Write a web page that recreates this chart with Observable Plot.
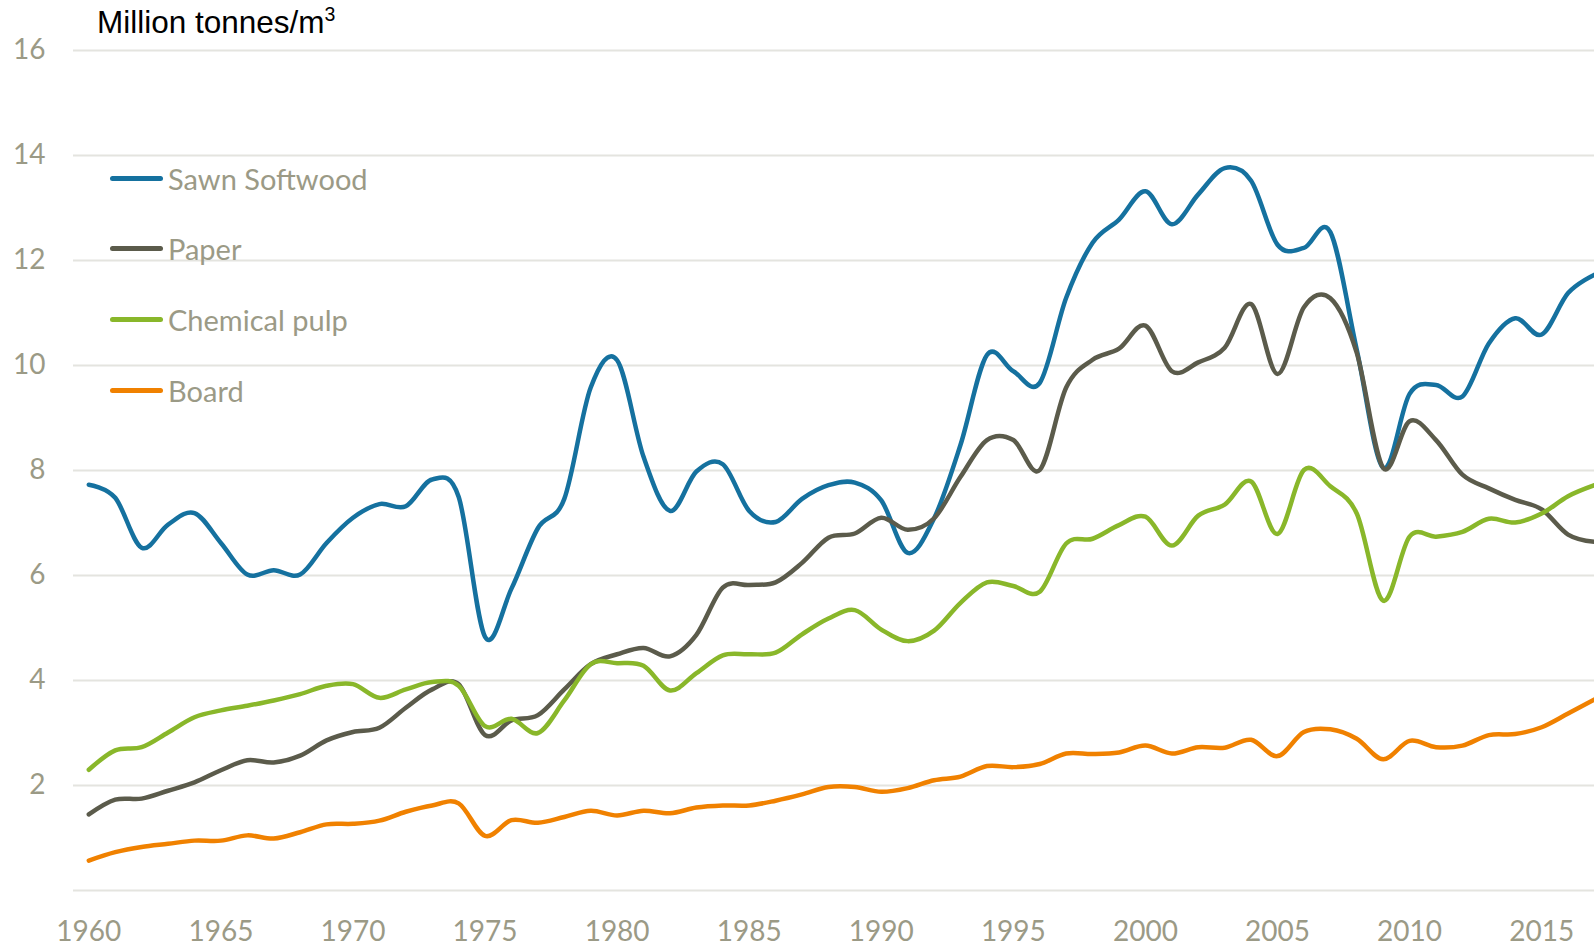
<!DOCTYPE html>
<html>
<head>
<meta charset="utf-8">
<script src="https://cdn.jsdelivr.net/npm/d3@7"></script>
<script src="https://cdn.jsdelivr.net/npm/@observablehq/plot@0.6"></script>
<style>
  body { margin: 0; background: #fff; }
  #wrap { position: relative; width: 1594px; height: 946px; overflow: hidden; background: #fff; }
  #title { position: absolute; left: 97px; top: 7px; font-family: "Liberation Sans", Arial, sans-serif; font-size: 31.5px; line-height: 31px; color: #000; white-space: nowrap; }
  #title sup { font-size: 0.62em; vertical-align: 0.6em; line-height: 0; }
  .item { position: absolute; left: 110px; height: 40px; display: flex; align-items: center; font-family: Lato, sans-serif; font-size: 29px; color: #9b9a86; white-space: nowrap; }
  .sw { width: 53px; height: 5px; border-radius: 3px; margin-right: 5px; }
  #chart { position: absolute; left: 0; top: 0; }
</style>
</head>
<body>
<div id="wrap">
  <div id="chart"></div>
  <div id="title">Million tonnes/m<sup>3</sup></div>
  <div id="legend"></div>
</div>
<script>
const years = [1960,1961,1962,1963,1964,1965,1966,1967,1968,1969,
  1970,1971,1972,1973,1974,1975,1976,1977,1978,1979,
  1980,1981,1982,1983,1984,1985,1986,1987,1988,1989,
  1990,1991,1992,1993,1994,1995,1996,1997,1998,1999,
  2000,2001,2002,2003,2004,2005,2006,2007,2008,2009,
  2010,2011,2012,2013,2014,2015,2016,2017];

const sawnSoftwood = [7.73,7.48,6.53,6.97,7.19,6.62,6.02,6.10,6.02,6.62,
  7.10,7.36,7.32,7.83,7.50,4.83,5.75,6.90,7.46,9.58,
  10.10,8.26,7.23,7.98,8.12,7.23,7.02,7.46,7.72,7.77,
  7.43,6.43,7.09,8.49,10.20,9.89,9.67,11.29,12.34,12.78,
  13.32,12.69,13.26,13.76,13.52,12.30,12.24,12.54,10.30,8.05,
  9.46,9.63,9.41,10.42,10.90,10.59,11.38,11.73];

const paper = [1.45,1.73,1.75,1.90,2.06,2.29,2.48,2.44,2.57,2.86,
  3.02,3.10,3.48,3.83,3.93,2.96,3.24,3.34,3.83,4.31,
  4.50,4.62,4.46,4.87,5.77,5.82,5.87,6.24,6.72,6.80,
  7.10,6.87,7.09,7.88,8.58,8.58,8.01,9.58,10.11,10.32,
  10.76,9.89,10.06,10.34,11.17,9.84,11.11,11.28,10.24,8.05,
  8.94,8.58,7.92,7.66,7.44,7.26,6.78,6.64];

const chemicalPulp = [2.30,2.67,2.73,3.01,3.30,3.43,3.52,3.62,3.74,3.90,
  3.93,3.67,3.83,3.97,3.90,3.13,3.27,3.00,3.62,4.31,
  4.33,4.28,3.81,4.14,4.48,4.50,4.53,4.88,5.18,5.34,
  4.97,4.75,4.95,5.48,5.87,5.80,5.69,6.61,6.70,6.96,
  7.12,6.57,7.14,7.35,7.79,6.79,8.01,7.70,7.18,5.52,
  6.74,6.74,6.83,7.08,7.01,7.18,7.51,7.72];

const board = [0.57,0.73,0.83,0.89,0.95,0.95,1.05,0.99,1.11,1.26,
  1.27,1.33,1.50,1.62,1.66,1.04,1.34,1.29,1.40,1.52,
  1.43,1.52,1.47,1.58,1.62,1.62,1.71,1.83,1.97,1.97,
  1.88,1.95,2.10,2.17,2.37,2.35,2.41,2.61,2.60,2.63,
  2.76,2.61,2.73,2.72,2.87,2.56,3.02,3.07,2.89,2.50,
  2.85,2.73,2.76,2.96,2.98,3.11,3.37,3.64];

const seriesNames = ["Sawn Softwood", "Paper", "Chemical pulp", "Board"];
const seriesColors = ["#15719f", "#5b5b4b", "#89b72a", "#f08100"];
const seriesValues = [sawnSoftwood, paper, chemicalPulp, board];

const xTicks = [1960,1965,1970,1975,1980,1985,1990,1995,2000,2005,2010,2015];
const yTicks = [2,4,6,8,10,12,14,16];
const gridValues = [0,2,4,6,8,10,12,14,16];

const rows = seriesValues.map(vals => years.map((yr, i) => ({year: yr, value: vals[i]})));

const chart = Plot.plot({
  width: 1594,
  height: 946,
  marginLeft: 73,
  marginRight: 0,
  marginTop: 50,
  marginBottom: 56,
  style: {fontFamily: "Lato, sans-serif", fontSize: "28px", color: "#9b9a86", background: "white", overflow: "hidden"},
  x: {domain: [1959.42, 2017], ticks: xTicks, tickFormat: d => String(d), tickSize: 0, tickPadding: 31, label: null},
  y: {domain: [0, 16], ticks: yTicks, tickSize: 0, tickPadding: 28, label: null},
  marks: [
    Plot.ruleY(gridValues, {stroke: "#e4e4df", strokeWidth: 2}),
    ...rows.map((r, i) => Plot.line(r, {
      x: "year", y: "value",
      stroke: seriesColors[i], strokeWidth: 4.5,
      strokeLinecap: "round", strokeLinejoin: "round",
      curve: "cardinal", tension: 0
    }))
  ]
});
document.getElementById("chart").appendChild(chart);

const legendCenters = [178, 248, 319, 390];
const legend = document.getElementById("legend");
seriesNames.forEach((name, i) => {
  const item = document.createElement("div");
  item.className = "item";
  item.style.top = (legendCenters[i] - 20) + "px";
  const sw = document.createElement("div");
  sw.className = "sw";
  sw.style.background = seriesColors[i];
  const label = document.createElement("span");
  label.textContent = name;
  item.appendChild(sw);
  item.appendChild(label);
  legend.appendChild(item);
});
</script>
</body>
</html>
